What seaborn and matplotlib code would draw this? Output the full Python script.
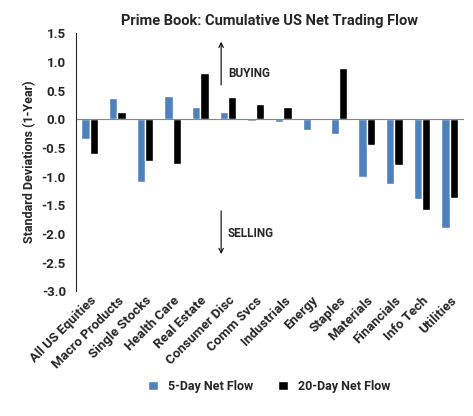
import matplotlib
matplotlib.use("Agg")
import matplotlib.pyplot as plt
from matplotlib.patches import FancyArrowPatch
import seaborn as sns
import pandas as pd

categories = ["All US Equities","Macro Products","Single Stocks","Health Care","Real Estate",
              "Consumer Disc","Comm Svcs","Industrials","Energy","Staples","Materials",
              "Financials","Info Tech","Utilities"]
five_day = [-0.35,0.37,-1.1,0.4,0.22,0.13,-0.03,-0.05,-0.18,-0.25,-1.0,-1.13,-1.4,-1.9]
twenty_day = [-0.6,0.13,-0.73,-0.78,0.8,0.38,0.27,0.22,0.02,0.9,-0.45,-0.8,-1.58,-1.37]

df = pd.DataFrame({"cat": categories*2,
                   "val": five_day+twenty_day,
                   "series": ["5-Day Net Flow"]*14+["20-Day Net Flow"]*14})

sns.set_style("white")
plt.rcParams['font.family'] = ['Roboto', 'DejaVu Sans']
fig, ax = plt.subplots(figsize=(4.73,4.16), dpi=100)
sns.barplot(data=df, x="cat", y="val", hue="series", palette=["#4f81bd","#000000"],
            width=0.6, ax=ax, saturation=1)
ax.set_ylim(-3.0,1.5)
ax.set_yticks([x/2 for x in range(-6,4)])
ax.set_yticklabels([f"{x/2:.1f}" for x in range(-6,4)], fontsize=9.5, fontweight='bold')
ax.set_xticks(range(14))
ax.set_xticklabels(categories, rotation=45, ha='right', rotation_mode='anchor', fontsize=9.5, fontweight='bold')
ax.tick_params(axis='x', length=0, pad=2)
ax.set_xlabel("")
ax.set_ylabel("Standard Deviations (1-Year)", fontsize=9, fontweight='bold')
for s in ["top","right","bottom"]:
    ax.spines[s].set_visible(False)
ax.axhline(0, color='#888888', lw=0.8)
ax.set_title("Prime Book: Cumulative US Net Trading Flow", fontsize=10.5, fontweight='bold')
for y0, y1 in [(0.55, 1.4), (-1.55, -2.4)]:
    ax.add_patch(FancyArrowPatch((4.75, y0), (4.75, y1), arrowstyle='->', mutation_scale=8,
                                 lw=0.8, color='black', zorder=5))
ax.text(5.0,0.8,"BUYING", fontsize=8.5, fontweight='bold', va='center')
ax.text(5.0,-2.0,"SELLING", fontsize=8.5, fontweight='bold', va='center')
ax.legend(loc='upper center', bbox_to_anchor=(0.5,-0.3), ncol=2, frameon=False,
          prop={'weight':'bold','size':9}, handlelength=0.8)
plt.subplots_adjust(left=0.16, right=0.98, top=0.92, bottom=0.3)
fig.savefig("out.png", dpi=100)
